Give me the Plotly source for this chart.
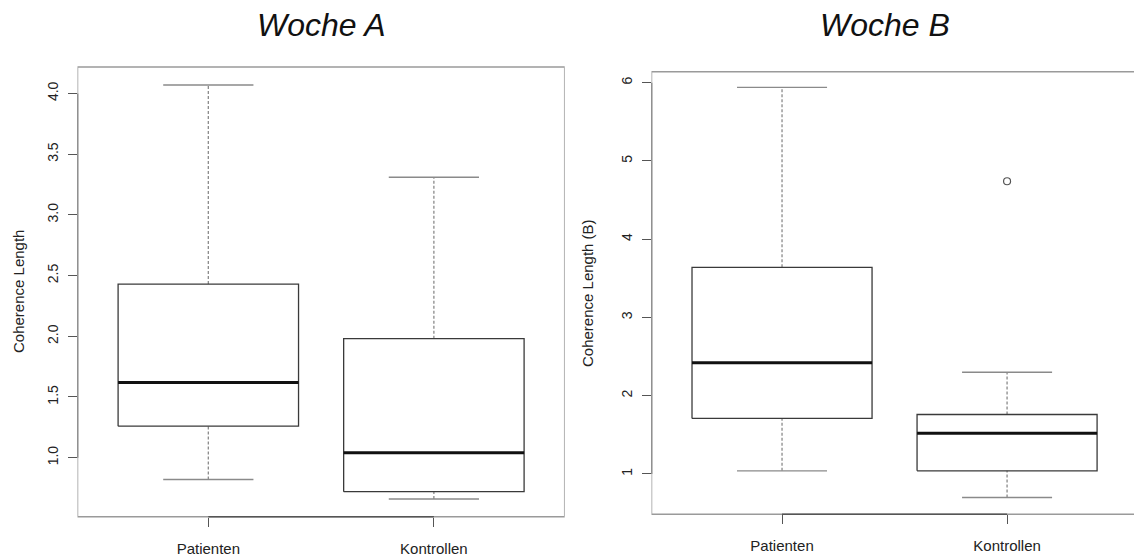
import plotly.graph_objects as go

# Groups and five-number summaries per week
groups = ["Patienten", "Kontrollen"]
positions = [1, 2]

a_low = [0.82, 0.66]
a_q1 = [1.26, 0.72]
a_med = [1.62, 1.04]
a_q3 = [2.43, 1.98]
a_high = [4.07, 3.31]
a_outliers = [[], []]

b_low = [1.04, 0.70]
b_q1 = [1.71, 1.04]
b_med = [2.42, 1.52]
b_q3 = [3.64, 1.76]
b_high = [5.94, 2.30]
b_outliers = [[], [4.74]]

a_ticks = [1.0, 1.5, 2.0, 2.5, 3.0, 3.5, 4.0]
a_ticktext = ["1.0", "1.5", "2.0", "2.5", "3.0", "3.5", "4.0"]
b_ticks = [1, 2, 3, 4, 5, 6]
b_ticktext = ["1", "2", "3", "4", "5", "6"]

# x limits of each panel (category 1..2 padded by 4 %)
XLIM = [0.42, 2.58]

BOX_HALF = 0.4
CAP_HALF = 0.2
BOX_COL = "#3a3a3a"
WHISK_COL = "#8a8a8a"
FRAME_COL = "#9a9a9a"
AXIS_COL = "#555555"
FONT = "Liberation Sans, Arial, sans-serif"

fig = go.Figure()


def add_boxes(xa, ya, low, q1, med, q3, high, outl):
    for i, p in enumerate(positions):
        # whiskers (dashed) and caps
        for y0, y1 in ((q3[i], high[i]), (low[i], q1[i])):
            fig.add_trace(go.Scatter(x=[p, p], y=[y0, y1], mode="lines",
                                     line=dict(color=WHISK_COL, width=1.3, dash="3px,2px"),
                                     xaxis=xa, yaxis=ya, hoverinfo="skip"))
        for yc in (high[i], low[i]):
            fig.add_trace(go.Scatter(x=[p - CAP_HALF, p + CAP_HALF], y=[yc, yc], mode="lines",
                                     line=dict(color=WHISK_COL, width=1.4),
                                     xaxis=xa, yaxis=ya, hoverinfo="skip"))
        # box
        fig.add_trace(go.Scatter(
            x=[p - BOX_HALF, p + BOX_HALF, p + BOX_HALF, p - BOX_HALF, p - BOX_HALF],
            y=[q1[i], q1[i], q3[i], q3[i], q1[i]], mode="lines",
            line=dict(color=BOX_COL, width=1.3), xaxis=xa, yaxis=ya, hoverinfo="skip"))
        # median
        fig.add_trace(go.Scatter(x=[p - BOX_HALF, p + BOX_HALF], y=[med[i], med[i]], mode="lines",
                                 line=dict(color="#111111", width=3),
                                 xaxis=xa, yaxis=ya, hoverinfo="skip"))
        # outliers
        if outl[i]:
            fig.add_trace(go.Scatter(x=[p] * len(outl[i]), y=outl[i], mode="markers",
                                     marker=dict(symbol="circle-open", size=7,
                                                 color="#555555", line=dict(width=1.2)),
                                     xaxis=xa, yaxis=ya, hoverinfo="skip"))


add_boxes("x", "y", a_low, a_q1, a_med, a_q3, a_high, a_outliers)
add_boxes("x2", "y2", b_low, b_q1, b_med, b_q3, b_high, b_outliers)

W, H = 1134, 556

xaxis_common = dict(tickmode="array", tickvals=positions, ticktext=groups,
                    showline=False,
                    ticks="outside", ticklen=9, tickcolor=AXIS_COL, tickwidth=1.2,
                    ticklabelstandoff=9,
                    showgrid=False, zeroline=False,
                    tickfont=dict(family=FONT, size=15, color="#222222"))
yaxis_common = dict(showline=False,
                    ticks="outside", ticklen=9, tickcolor=AXIS_COL, tickwidth=1.2,
                    ticklabelstandoff=4,
                    showgrid=False, zeroline=False, tickangle=-90,
                    tickfont=dict(family=FONT, size=14, color="#222222"))

fig.update_layout(
    width=W, height=H,
    margin=dict(l=0, r=0, t=0, b=0),
    paper_bgcolor="white", plot_bgcolor="white",
    showlegend=False,
    xaxis=dict(domain=[77.5 / W, 564.7 / W], range=XLIM, anchor="y", **xaxis_common),
    yaxis=dict(domain=[1 - 516.7 / H, 1 - 67 / H], range=[0.514, 4.218], anchor="x",
               tickmode="array", tickvals=a_ticks, ticktext=a_ticktext, **yaxis_common),
    xaxis2=dict(domain=[651.5 / W, 1.0], range=[XLIM[0], 2.564], anchor="y2", **xaxis_common),
    yaxis2=dict(domain=[1 - 514.3 / H, 1 - 71.7 / H], range=[0.485, 6.14], anchor="x2",
                tickmode="array", tickvals=b_ticks, ticktext=b_ticktext, **yaxis_common),
)

# light frame around each panel, then darker axis segments spanning the tick range
for xa, ya, yt in (("x", "y", a_ticks), ("x2", "y2", b_ticks)):
    fig.add_shape(type="rect", xref=xa, yref=f"{ya} domain", x0=XLIM[0], x1=XLIM[1],
                  y0=0, y1=1, line=dict(color=FRAME_COL, width=1.5), layer="above")
    fig.add_shape(type="line", xref=xa, yref=ya, x0=XLIM[0], x1=XLIM[0],
                  y0=yt[0], y1=yt[-1], line=dict(color=AXIS_COL, width=1.5))
    fig.add_shape(type="line", xref=xa, yref=f"{ya} domain", x0=positions[0], x1=positions[-1],
                  y0=0, y1=0, line=dict(color=AXIS_COL, width=1.5))

# panel titles and y-axis titles
title_font = dict(family=FONT, size=32, color="#111111")
label_font = dict(family=FONT, size=15, color="#222222")
for txt, xc in (("<i>Woche A</i>", 321), ("<i>Woche B</i>", 885)):
    fig.add_annotation(text=txt, x=xc / W, y=1 - 25 / H, xref="paper", yref="paper",
                       xanchor="center", yanchor="middle", showarrow=False, font=title_font)
for txt, xc, yc in (("Coherence Length", 18, 292), ("Coherence Length (B)", 587, 293)):
    fig.add_annotation(text=txt, x=xc / W, y=1 - yc / H, xref="paper", yref="paper",
                       xanchor="center", yanchor="middle", showarrow=False, textangle=-90,
                       font=label_font)

fig.write_html("out.html")
